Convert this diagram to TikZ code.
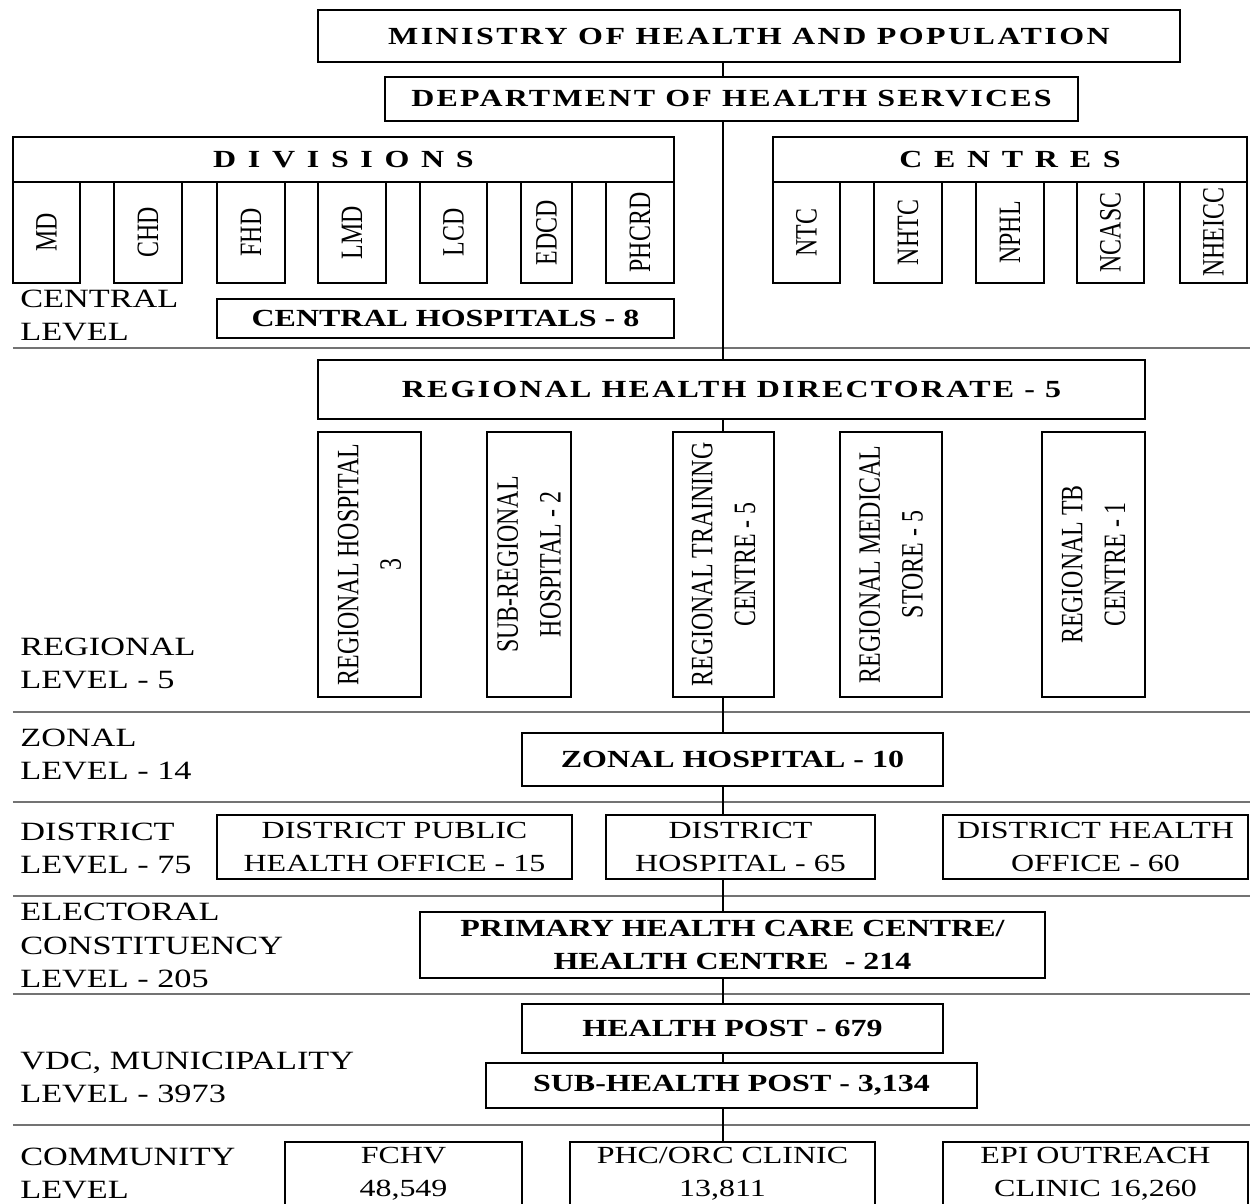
\documentclass[tikz,border=0pt]{standalone}
\usepackage{fontspec}
\setmainfont{Liberation Serif}[FakeStretch=1.3]
\newfontfamily\uprightfont{Liberation Serif}
\usetikzlibrary{calc,positioning}

\begin{document}
\begin{tikzpicture}[y=-1cm,
  unitbox/.style={draw, line width=1.25pt, inner sep=0pt, align=center, font=\fontsize{14}{18.7}\selectfont},
  unitboxb/.style={unitbox, font=\bfseries\fontsize{14}{18.7}\selectfont},
  subunit/.style={draw, line width=1.25pt, inner sep=0pt, minimum height=2.02cm},
  regunit/.style={subunit, minimum height=5.30cm},
  vtext/.style={rotate=90, yscale=1.3, inner sep=0pt, align=center, font=\uprightfont\fontsize{13.6}{18.7}\selectfont},
  levellabel/.style={anchor=west, inner sep=0pt, align=left, font=\fontsize{15}{19}\selectfont},
  levelrule/.style={draw=black!55, line width=1.6pt},
  trunkline/.style={line width=1pt}]
\useasboundingbox (0,0) rectangle (25,24.06);

% level separators
\foreach \y in {6.96,14.24,16.04,17.92,19.88,22.50}
  \draw[levelrule] (0.26,\y) -- (25,\y);

\node[unitboxb, minimum width=17.24cm, minimum height=1.04cm] (ministry) at (14.98,0.72) {\addfontfeature{LetterSpace=10}MINISTRY OF HEALTH AND POPULATION};
\node[unitboxb, minimum width=13.86cm, minimum height=0.88cm] (dept) at (14.63,1.98) {\addfontfeature{LetterSpace=9}DEPARTMENT OF HEALTH SERVICES};

% divisions
\node[unitboxb, minimum width=13.22cm, minimum height=0.90cm] (divs) at (6.87,3.19) {\addfontfeature{LetterSpace=15}D I V I S I O N S};
\node[subunit, minimum width=1.34cm, label={[vtext]center:MD}] (md) at (0.93,4.65) {};
\node[subunit, minimum width=1.36cm, label={[vtext]center:CHD}] (chd) at (2.96,4.65) {};
\node[subunit, minimum width=1.36cm, label={[vtext]center:FHD}] (fhd) at (5.02,4.65) {};
\node[subunit, minimum width=1.36cm, label={[vtext]center:LMD}] (lmd) at (7.04,4.65) {};
\node[subunit, minimum width=1.34cm, label={[vtext]center:LCD}] (lcd) at (9.07,4.65) {};
\node[subunit, minimum width=1.02cm, label={[vtext]center:EDCD}] (edcd) at (10.93,4.65) {};
\node[subunit, minimum width=1.36cm, label={[vtext]center:PHCRD}] (phcrd) at (12.80,4.65) {};

% centres
\node[unitboxb, minimum width=9.48cm, minimum height=0.90cm] (cents) at (20.20,3.19) {\addfontfeature{LetterSpace=15}C E N T R E S};
\node[subunit, minimum width=1.34cm, label={[vtext]center:NTC}] (ntc) at (16.13,4.65) {};
\node[subunit, minimum width=1.36cm, label={[vtext]center:NHTC}] (nhtc) at (18.16,4.65) {};
\node[subunit, minimum width=1.36cm, label={[vtext]center:NPHL}] (nphl) at (20.20,4.65) {};
\node[subunit, minimum width=1.34cm, label={[vtext]center:NCASC}] (ncasc) at (22.21,4.65) {};
\node[subunit, minimum width=1.34cm, label={[vtext]center:NHEICC}] (nheicc) at (24.27,4.65) {};

\node[unitboxb, minimum width=9.14cm, minimum height=0.78cm] (chosp) at (8.91,6.37) {CENTRAL HOSPITALS - 8};

% regional level
\node[unitboxb, minimum width=16.54cm, minimum height=1.18cm] (rhd) at (14.63,7.79) {\addfontfeature{LetterSpace=9}REGIONAL HEALTH DIRECTORATE - 5};
\node[regunit, minimum width=2.06cm, label={[vtext]center:{REGIONAL HOSPITAL\\3}}] (rh) at (7.39,11.29) {};
\node[regunit, minimum width=1.68cm, label={[vtext]center:{SUB-REGIONAL\\HOSPITAL - 2}}] (srh) at (10.58,11.29) {};
\node[regunit, minimum width=2.02cm, label={[vtext]center:{REGIONAL TRAINING\\CENTRE - 5}}] (rtc) at (14.47,11.29) {};
\node[regunit, minimum width=2.04cm, label={[vtext]center:{REGIONAL MEDICAL\\STORE - 5}}] (rms) at (17.82,11.29) {};
\node[regunit, minimum width=2.06cm, label={[vtext]center:{REGIONAL TB\\CENTRE - 1}}] (rtb) at (21.87,11.29) {};

% lower levels
\node[unitboxb, minimum width=8.42cm, minimum height=1.06cm] (zonal) at (14.65,15.19) {ZONAL HOSPITAL - 10};
\node[unitbox, minimum width=7.10cm, minimum height=1.28cm] (dpho) at (7.89,16.94) {DISTRICT PUBLIC\\HEALTH OFFICE - 15};
\node[unitbox, minimum width=5.38cm, minimum height=1.28cm] (dh) at (14.81,16.94) {DISTRICT\\HOSPITAL - 65};
\node[unitbox, minimum width=6.10cm, minimum height=1.28cm] (dho) at (21.91,16.94) {DISTRICT HEALTH\\OFFICE - 60};
\node[unitboxb, minimum width=12.50cm, minimum height=1.32cm] (phc) at (14.65,18.90) {PRIMARY HEALTH CARE CENTRE/\\HEALTH CENTRE~~- 214};
\node[unitboxb, minimum width=8.42cm, minimum height=0.98cm] (hp) at (14.65,20.57) {HEALTH POST - 679};
\node[unitboxb, minimum width=9.82cm, minimum height=0.90cm] (shp) at (14.63,21.71) {SUB-HEALTH POST - 3,134};
\node[unitbox, minimum width=4.74cm, minimum height=1.28cm] (fchv) at (8.07,23.48) {FCHV\\48,549};
\node[unitbox, minimum width=6.10cm, minimum height=1.28cm] (orc) at (14.45,23.48) {PHC/ORC CLINIC\\13,811};
\node[unitbox, minimum width=6.10cm, minimum height=1.28cm] (epi) at (21.91,23.48) {EPI OUTREACH\\CLINIC 16,260};

% level names
\node[levellabel] (lcentral) at (0.40,6.31) {CENTRAL\\LEVEL};
\node[levellabel] (lregional) at (0.40,13.27) {REGIONAL\\LEVEL - 5};
\node[levellabel] (lzonal) at (0.40,15.09) {ZONAL\\LEVEL - 14};
\node[levellabel] (ldistrict) at (0.40,16.97) {DISTRICT\\LEVEL - 75};
\node[levellabel] (lelect) at (0.40,18.91) {ELECTORAL\\CONSTITUENCY\\LEVEL - 205};
\node[levellabel] (lvdc) at (0.40,21.55) {VDC, MUNICIPALITY\\LEVEL - 3973};
\node[levellabel] (lcomm) at (0.40,23.47) {COMMUNITY\\LEVEL};

% main line
\coordinate (trunk) at (14.46,0);
\draw[trunkline] (ministry.south -| trunk) -- (dept.north -| trunk);
\draw[trunkline] (dept.south -| trunk) -- (rhd.north -| trunk);
\draw[trunkline] (rhd.south -| trunk) -- (rtc.north -| trunk);
\draw[trunkline] (rtc.south -| trunk) -- (zonal.north -| trunk);
\draw[trunkline] (zonal.south -| trunk) -- (dh.north -| trunk);
\draw[trunkline] (dh.south -| trunk) -- (phc.north -| trunk);
\draw[trunkline] (phc.south -| trunk) -- (hp.north -| trunk);
\draw[trunkline] (hp.south -| trunk) -- (shp.north -| trunk);
\draw[trunkline] (shp.south -| trunk) -- (orc.north -| trunk);
\end{tikzpicture}
\end{document}
